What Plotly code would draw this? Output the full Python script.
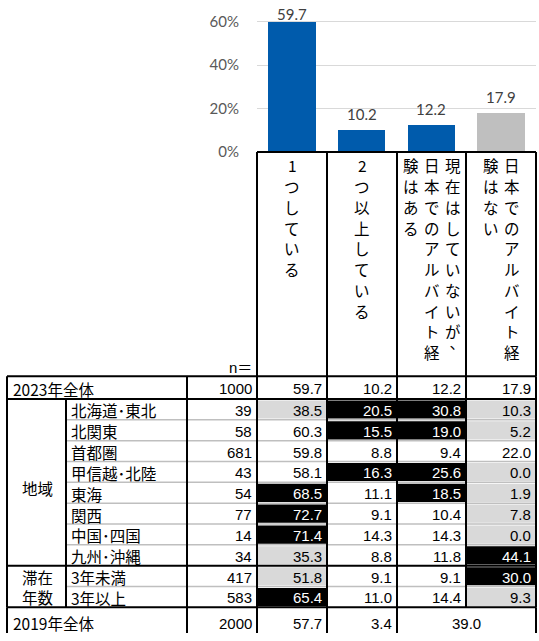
import plotly.graph_objects as go

# ---------------- data ----------------
CATEGORIES = ["1つしている", "2つ以上している",
              "現在はしていないが、日本でのアルバイト経験はある",
              "日本でのアルバイト経験はない"]
BAR_VALUES = [59.7, 10.2, 12.2, 17.9]
BAR_IS_GRAY = [False, False, False, True]
Y_TICKS = [0, 20, 40, 60]
Y_TICK_LABELS = ["0%", "20%", "40%", "60%"]

N_LABEL = "n＝"
TOTAL_LABEL = "2023年全体"
TOTAL_N = 1000
TOTAL_VALUES = [59.7, 10.2, 12.2, 17.9]

REGION_GROUP = "地域"
REGION_LABELS = ["北海道･東北", "北関東", "首都圏", "甲信越･北陸", "東海", "関西", "中国･四国", "九州･沖縄"]
REGION_N = [39, 58, 681, 43, 54, 77, 14, 34]
REGION_VALUES = [
    [38.5, 20.5, 30.8, 10.3],
    [60.3, 15.5, 19.0, 5.2],
    [59.8, 8.8, 9.4, 22.0],
    [58.1, 16.3, 25.6, 0.0],
    [68.5, 11.1, 18.5, 1.9],
    [72.7, 9.1, 10.4, 7.8],
    [71.4, 14.3, 14.3, 0.0],
    [35.3, 8.8, 11.8, 44.1],
]

STAY_GROUP = ["滞在", "年数"]
STAY_LABELS = ["3年未満", "3年以上"]
STAY_N = [417, 583]
STAY_VALUES = [
    [51.8, 9.1, 9.1, 30.0],
    [65.4, 11.0, 14.4, 9.3],
]

PREV_LABEL = "2019年全体"
PREV_N = 2000
PREV_VALUES = [57.7, 3.4, 39.0]   # last value spans the last two columns

HIGHLIGHT_DIFF = 5.0  # points vs. 2023 total

# ---------------- layout constants ----------------
W, H = 539, 641
COL_X = [7, 66, 187, 257, 327, 397, 466, 536]
HEADER_TOP = 154
TABLE_TOP = 381
FIRST_ROW_H = 23
ROW_H = 21.1
BOTTOM = 650
BASE_Y = 153.5
PX_PER_PCT = 131.5 / 60
Y_MAX = 65
BLUE = "#005BAC"
BAR_GRAY = "#BFBFBF"
CELL_GRAY = "#D9D9D9"
SEP_GRAY = "#BFBFBF"
NFONT = "Liberation Sans, Noto Sans CJK JP, sans-serif"
JFONT = "Noto Sans CJK JP, sans-serif"
CFONT = "Lato, Liberation Sans, sans-serif"
NFS = 15
JFS = 15.5
HFS = 15.5
VERTICAL_FORMS = {"、": "︑"}

fig = go.Figure()

# ---------------- bar chart ----------------
fig.add_trace(go.Bar(
    x=list(range(len(BAR_VALUES))), y=BAR_VALUES, width=0.68,
    marker=dict(color=[BAR_GRAY if g else BLUE for g in BAR_IS_GRAY], line=dict(width=0)),
    hoverinfo="skip", showlegend=False, xaxis="x", yaxis="y",
))

annotations = []
shapes = []

label_off = 16 / PX_PER_PCT
label_max = (BASE_Y - 14.6) / PX_PER_PCT
for i, v in enumerate(BAR_VALUES):
    annotations.append(dict(x=i, y=min(v + label_off, label_max), xref="x", yref="y",
                            text=f"{v:.1f}", showarrow=False, yanchor="middle",
                            font=dict(family=CFONT, size=15, color="#404040")))

# ---------------- table rows ----------------
rows = []  # (kind, label, n, values)
rows.append(("total", TOTAL_LABEL, TOTAL_N, TOTAL_VALUES))
for lab, n, vals in zip(REGION_LABELS, REGION_N, REGION_VALUES):
    rows.append(("region", lab, n, vals))
for lab, n, vals in zip(STAY_LABELS, STAY_N, STAY_VALUES):
    rows.append(("stay", lab, n, vals))

row_edges = [TABLE_TOP, TABLE_TOP + FIRST_ROW_H]
for _ in range(len(rows) - 1):
    row_edges.append(row_edges[-1] + ROW_H)
prev_top = row_edges[-1]


def cell_state(v, base):
    if v - base >= HIGHLIGHT_DIFF:
        return 2
    if base - v >= HIGHLIGHT_DIFF:
        return 1
    return 0


def line(x0, y0, x1, y1, color="black", width=2):
    shapes.append(dict(type="line", xref="x2", yref="y2", x0=x0, y0=y0, x1=x1, y1=y1,
                       line=dict(color=color, width=width)))


def text(x, y, s, anchor, color="black", family=NFONT, size=NFS, xshift=0):
    annotations.append(dict(x=x, y=y, xref="x2", yref="y2", text=s, showarrow=False,
                            xanchor=anchor, yanchor="middle", borderpad=0, xshift=xshift,
                            font=dict(family=family, size=size, color=color)))


fills = []
for r, (kind, lab, n, vals) in enumerate(rows):
    top, bot = row_edges[r], row_edges[r + 1]
    yc = (top + bot) / 2 + 1
    if kind == "total":
        text(COL_X[0] + 5, yc, lab, "left", family=JFONT, size=JFS)
    else:
        text(COL_X[1] + 4, yc, lab, "left", family=JFONT, size=JFS)
    text(COL_X[3] - 4, yc, str(n), "right")
    for j, v in enumerate(vals):
        st = 0 if kind == "total" else cell_state(v, TOTAL_VALUES[j])
        if st:
            fills.append(dict(type="rect", xref="x2", yref="y2",
                              x0=COL_X[3 + j] + 1, x1=COL_X[4 + j] - 1,
                              y0=top + 1.5, y1=bot - 1.2,
                              fillcolor="black" if st == 2 else CELL_GRAY,
                              line=dict(width=0)))
        text(COL_X[4 + j] - 4, yc, f"{v:.1f}", "right", "white" if st == 2 else "black")

# group labels
gx = (COL_X[0] + COL_X[1]) / 2 + 1
reg_top, reg_bot = row_edges[1], row_edges[1 + len(REGION_LABELS)]
text(gx, (reg_top + reg_bot) / 2 + 6, REGION_GROUP, "center", family=JFONT, size=JFS)
stay_top, stay_bot = reg_bot, row_edges[-1]
sc = (stay_top + stay_bot) / 2
text(gx, sc - 10, STAY_GROUP[0], "center", family=JFONT, size=JFS)
text(gx, sc + 11, STAY_GROUP[1], "center", family=JFONT, size=JFS)

# 2019 row
py = prev_top + 16
text(COL_X[0] + 5, py, PREV_LABEL, "left", family=JFONT, size=JFS)
text(COL_X[3] - 4, py, str(PREV_N), "right")
text(COL_X[4] - 4, py, f"{PREV_VALUES[0]:.1f}", "right")
text(COL_X[5] - 4, py, f"{PREV_VALUES[1]:.1f}", "right")
text(COL_X[6], py, f"{PREV_VALUES[2]:.1f}", "center")

# n= label
text(COL_X[3] - 4, TABLE_TOP - 9, N_LABEL, "right")

# header vertical text (columns read right to left)
CH_TOP = 167.5
CH_STEP = 21.0
COL_SP = 21.0
CHUNK = 10
for j, cat in enumerate(CATEGORIES):
    chunks = [cat[k:k + CHUNK] for k in range(0, len(cat), CHUNK)]
    cx = (COL_X[3 + j] + COL_X[4 + j]) / 2
    nc = len(chunks)
    for c, chunk in enumerate(chunks):
        x = cx + (nc - 1) / 2 * COL_SP - c * COL_SP
        for k, ch in enumerate(chunk):
            y = CH_TOP + k * CH_STEP
            xs = -5 if ch in VERTICAL_FORMS else 0
            text(x, y, VERTICAL_FORMS.get(ch, ch), "center", family=JFONT, size=HFS, xshift=xs)

# separators (gray)
seps = []
for r in list(range(1, len(REGION_LABELS))) + [len(REGION_LABELS) + 1]:
    y = row_edges[r + 1]
    seps.append(dict(type="line", xref="x2", yref="y2", x0=COL_X[1], x1=COL_X[7], y0=y, y1=y,
                     line=dict(color=SEP_GRAY, width=1.5)))

shapes_final = fills + seps
# black structure lines
line(COL_X[3], HEADER_TOP, COL_X[7], HEADER_TOP)
for x in COL_X[3:]:
    line(x, HEADER_TOP, x, TABLE_TOP)
for y in [TABLE_TOP, row_edges[1], reg_bot, prev_top]:
    line(COL_X[0], y, COL_X[7], y)
for x in [COL_X[0], COL_X[2], COL_X[3], COL_X[4], COL_X[5], COL_X[6], COL_X[7]]:
    line(x, TABLE_TOP, x, prev_top)
line(COL_X[1], row_edges[1], COL_X[1], prev_top)
for x in [COL_X[0], COL_X[2], COL_X[3], COL_X[4], COL_X[5], COL_X[7]]:
    line(x, prev_top, x, BOTTOM)
shapes_final += shapes

y_dom0 = 1 - BASE_Y / H
y_dom1 = 1 - (BASE_Y - Y_MAX * PX_PER_PCT) / H

fig.update_layout(
    width=W, height=H, margin=dict(l=0, r=0, t=0, b=0),
    paper_bgcolor="white", plot_bgcolor="rgba(0,0,0,0)",
    showlegend=False, bargap=0,
    xaxis=dict(domain=[COL_X[3] / W, COL_X[7] / W], range=[-0.5, 3.5], visible=False,
               fixedrange=True),
    yaxis=dict(domain=[y_dom0, y_dom1], range=[0, Y_MAX], tickvals=Y_TICKS, ticktext=Y_TICK_LABELS,
               showgrid=True, gridcolor="#D9D9D9", gridwidth=1, zeroline=False, showline=False,
               ticks="", ticklabelstandoff=17,
               tickfont=dict(family=CFONT, size=15, color="#595959"), fixedrange=True),
    xaxis2=dict(domain=[0, 1], range=[0, W], visible=False, anchor="y2", fixedrange=True),
    yaxis2=dict(domain=[0, 1], range=[H, 0], visible=False, anchor="x2", fixedrange=True),
    shapes=shapes_final,
    annotations=annotations,
)
# invisible trace to activate the table axes
fig.add_trace(go.Scatter(x=[0], y=[0], xaxis="x2", yaxis="y2", mode="markers",
                         marker=dict(opacity=0), hoverinfo="skip", showlegend=False))

fig.write_html("out.html", config={"displayModeBar": False, "staticPlot": True},
               post_script="document.body.style.margin='0px';document.body.style.overflow='hidden';")
